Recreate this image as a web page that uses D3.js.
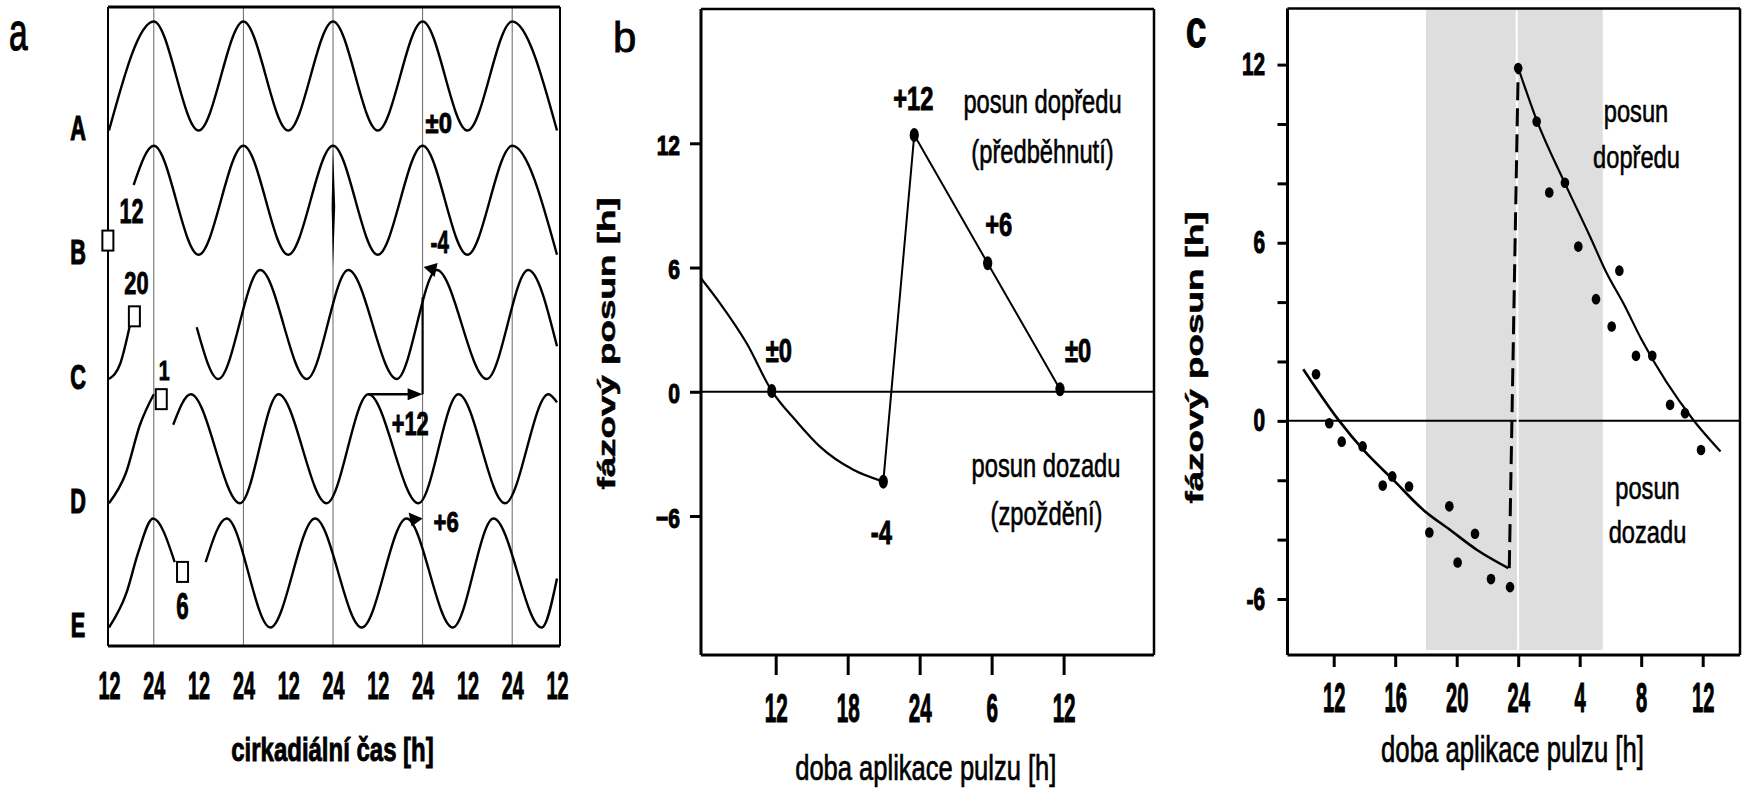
<!DOCTYPE html>
<html>
<head>
<meta charset="utf-8">
<script src="https://cdn.jsdelivr.net/npm/d3@7"></script>
<style>
  body { margin: 0; background: #fff; }
</style>
</head>
<body>
<div id="chart"></div>
<script>
const FONT = '"Liberation Sans", Arial, Helvetica, sans-serif';

// ---- panel a: traces as [hour, level] readings (level -1 trough .. 1 peak)
const rows = ['A', 'B', 'C', 'D', 'E'];
const traceA = [
  [[12, -1], [24, 1], [36, -1], [48, 1], [60, -1], [72, 1], [84, -1], [96, 1], [108, -1], [120, 1], [132, -1]]
];
const traceB = [
  [[18.6, 0.28], [24, 1], [36, -1], [48, 1], [60, -1], [72, 1], [84, -1], [96, 1], [108, -1], [120, 1], [132, -1]]
];
const traceC = [
  [[12, -1], [15, -0.72], [17.8, 0.05]],
  [[35.5, -0.05], [41.3, -1], [52.5, 1], [65, -1], [76.1, 1], [89.1, -1], [99.8, 1], [113.2, -1], [124.3, 1], [132, -0.4]]
];
const traceD = [
  [[12, -1], [16.5, -0.45], [20.3, 0.44], [24, 1]],
  [[29.2, 0.44], [33.9, 1], [47.1, -1], [57.4, 1], [70.3, -1], [81.5, 1], [94.9, -1], [105.6, 1], [118.1, -1], [129.7, 1], [132, 0.85]]
];
const traceE = [
  [[12, -1], [16.7, -0.36], [19.8, 0.37], [23.8, 1], [29.6, 0.2]],
  [[37.9, 0.2], [43.5, 1], [55.2, -1], [67.2, 1], [79.7, -1], [91.7, 1], [104.1, -1], [115, 1], [127.9, -1], [132, -0.1]]
];
const pulseRows = ['B', 'C', 'D', 'E'];
const pulseHours = [11.7, 18.8, 26, 31.7];
const pulseLevels = [-0.74, 0.15, 0.91, 0.02];
const pulseLabels = ['12', '20', '1', '6'];
const shiftRows = ['A', 'B', 'D', 'E'];
const shiftLabels = ['±0', '-4', '+12', '+6'];
const gridHoursA = [24, 48, 72, 96, 120];
const tickHoursA = [12, 24, 36, 48, 60, 72, 84, 96, 108, 120, 132];
const tickLabelsA = ['12', '24', '12', '24', '12', '24', '12', '24', '12', '24', '12'];

// ---- panel b
const bCurveHours = [5.77, 7.36, 9.58, 11.67, 13.75, 15.69, 18.47, 20.97];
const bCurveShift = [5.48, 4.27, 2.34, 0.04, -1.44, -2.65, -3.77, -4.34];
const bDotHours = [11.67, 20.97, 23.55, 29.67, 35.7];
const bDotShift = [0.04, -4.34, 12.4, 6.21, 0.12];
const bDotLabels = ['±0', '-4', '+12', '+6', '±0'];
const bTickHours = [12, 18, 24, 30, 36];
const bTickLabels = ['12', '18', '24', '6', '12'];
const bYTicks = [-6, 0, 6, 12];

// ---- panel c
const cDotHours = [10.85, 11.71, 12.52, 13.88, 15.19, 15.81, 16.9, 18.22, 19.52, 20.06, 21.19, 22.23, 23.47,
  24.0, 25.2, 26.02, 27.04, 27.91, 29.06, 30.08, 30.58, 31.66, 32.72, 33.88, 34.85, 35.89];
const cDotShift = [1.57, -0.08, -0.7, -0.86, -2.18, -1.87, -2.21, -3.76, -2.88, -4.77, -3.8, -5.33, -5.6,
  11.88, 10.08, 7.69, 8.02, 5.87, 4.1, 3.18, 5.06, 2.19, 2.19, 0.54, 0.26, -0.98];
const cLowFitHours = [10.02, 12.36, 13.93, 15.88, 17.83, 19.56, 21.3, 23.36];
const cLowFitShift = [1.74, 0, -0.98, -1.99, -3.0, -3.67, -4.34, -4.96];
const cHighFitHours = [24.01, 25.2, 27.04, 28.67, 29.76, 30.84, 32.03, 35.39, 37.16];
const cHighFitShift = [11.88, 10.13, 8.0, 6.21, 4.97, 3.96, 2.73, 0.03, -1.03];
const cJumpHours = [23.42, 24.0];
const cJumpShift = [-4.96, 11.88];
const cDarkHours = [18, 29.5];
const cTickHours = [12, 16, 20, 24, 28, 32, 36];
const cTickLabels = ['12', '16', '20', '24', '4', '8', '12'];
const cYTicks = [-6, -4, -2, 0, 2, 4, 6, 8, 10, 12];

const svg = d3.select('#chart').append('svg')
  .attr('width', 1742).attr('height', 792)
  .style('background', '#fff');

// bold condensed look: real text, squeezed with a transform and thickened with a thin stroke
const label = (g, str, x, y, o) => g.append('text')
  .attr('transform', `translate(${x},${y})${o.rotate ? ` rotate(${o.rotate})` : ''} scale(${o.sx || 1},${o.sy || 1})`)
  .attr('text-anchor', o.anchor || 'middle')
  .attr('fill', '#000')
  .attr('stroke', '#000')
  .attr('stroke-width', o.heavy != null ? o.heavy : 0.9)
  .style('font-family', FONT)
  .style('font-size', o.size + 'px')
  .style('font-weight', o.weight || 'bold')
  .text(str);

const styleAxis = (g, o) => {
  g.select('.domain').remove();
  g.selectAll('.tick line').attr('stroke', '#000').attr('stroke-width', o.tw || 0);
  g.selectAll('.tick text')
    .attr('x', null).attr('y', null).attr('dy', null)
    .attr('fill', '#000')
    .attr('stroke', '#000').attr('stroke-width', 1.1)
    .attr('text-anchor', o.anchor)
    .attr('transform', `translate(${o.dx},${o.dy}) scale(${o.sx},1)`)
    .style('font-family', FONT)
    .style('font-size', o.size + 'px')
    .style('font-weight', 'bold');
};

const frame = (g, l, r, t, b, wl, wb, wt, wr) => {
  g.append('line').attr('x1', l).attr('x2', r).attr('y1', t).attr('y2', t).attr('stroke', '#000').attr('stroke-width', wt);
  g.append('line').attr('x1', l).attr('x2', r).attr('y1', b).attr('y2', b).attr('stroke', '#000').attr('stroke-width', wb);
  g.append('line').attr('x1', l).attr('x2', l).attr('y1', t).attr('y2', b).attr('stroke', '#000').attr('stroke-width', wl);
  g.append('line').attr('x1', r).attr('x2', r).attr('y1', t).attr('y2', b).attr('stroke', '#000').attr('stroke-width', wr);
};

// ================= panel a =================
const gA = svg.append('g');
const xA = d3.scaleLinear().domain([12, 132]).range([109, 557]);
const rowY = d3.scalePoint().domain(rows).range([76, 573]);
const lvl = d3.scaleLinear().domain([-1, 1]).range([54.5, -54.5]);
const yA = (r, v) => rowY(r) + lvl(v);
const aTop = 7, aBottom = 646;

gA.selectAll('line.grid').data(gridHoursA).join('line')
  .attr('class', 'grid')
  .attr('x1', d => xA(d)).attr('x2', d => xA(d))
  .attr('y1', aTop).attr('y2', aBottom)
  .attr('stroke', '#666').attr('stroke-width', 1);

frame(gA, xA(12) - 1, xA(132) + 3, aTop, aBottom, 2, 3, 3, 2);

const traces = { A: traceA, B: traceB, C: traceC, D: traceD, E: traceE };
const lineA = d3.line().curve(d3.curveMonotoneX);
rows.forEach(r => {
  traces[r].forEach(seg => {
    gA.append('path')
      .attr('d', lineA(seg.map(p => [xA(p[0]), yA(r, p[1])])))
      .attr('fill', 'none').attr('stroke', '#000').attr('stroke-width', 2.4);
  });
  label(gA, r, 78, rowY(r) + 64, { size: 35, sx: 0.62, heavy: 1.2 });
});

// odd dark stroke at the third gridline
{
  const x = xA(72), y0 = yA('B', 1), y1 = yA('C', 1.05), ym = (y0 + y1) / 2;
  gA.append('path').attr('d', `M${x},${y0} L${x + 2.2},${ym} L${x},${y1} L${x - 1.4},${ym} Z`).attr('fill', '#000');
}

// pulse boxes
pulseRows.forEach((r, i) => {
  const cx = xA(pulseHours[i]), cy = yA(r, pulseLevels[i]);
  gA.append('rect').attr('x', cx - 5.5).attr('y', cy - 10).attr('width', 11).attr('height', 20)
    .attr('fill', '#fff').attr('stroke', '#000').attr('stroke-width', 2);
  const t = pulseLabels[i];
  if (t === '12') label(gA, t, cx + 11.5, cy - 18, { size: 36, sx: 0.6, anchor: 'start' });
  else if (t === '20') label(gA, t, cx + 2, cy - 22, { size: 32, sx: 0.68 });
  else if (t === '1') label(gA, t, cx + 3, cy - 19, { size: 28, sx: 0.7 });
  else label(gA, t, cx, cy + 47, { size: 36, sx: 0.62 });
});

// phase shift annotations
const x96 = xA(96);
shiftRows.forEach((r, i) => {
  const t = shiftLabels[i];
  if (t === '±0') label(gA, t, x96 + 3, rowY(r) + 57, { size: 29, sx: 0.82, anchor: 'start' });
  else if (t === '-4') label(gA, t, x96 + 8, rowY(r) + 53, { size: 32, sx: 0.64, anchor: 'start' });
  else if (t === '+12') label(gA, t, x96 + 6, rowY(r) - 14, { size: 33, sx: 0.66, anchor: 'end' });
  else label(gA, t, x96 + 11, rowY(r) - 41, { size: 29, sx: 0.76, anchor: 'start' });
});
{
  const yD = yA('D', 1);
  gA.append('line').attr('x1', xA(81.5)).attr('x2', x96 - 12).attr('y1', yD).attr('y2', yD)
    .attr('stroke', '#000').attr('stroke-width', 2.6);
  gA.append('path').attr('d', `M${x96},${yD} L${x96 - 15},${yD - 6} L${x96 - 15},${yD + 6} Z`).attr('fill', '#000');
  gA.append('line').attr('x1', x96).attr('x2', x96).attr('y1', yD).attr('y2', yA('C', 0.5))
    .attr('stroke', '#000').attr('stroke-width', 2.2);
  const yC = yA('C', 1);
  gA.append('path').attr('d', `M${x96 + 1},${yC - 3} L${x96 + 15},${yC - 7} L${x96 + 12},${yC + 7} Z`).attr('fill', '#000');
  const yE = yA('E', 1);
  gA.append('path').attr('d', `M${x96},${yE} L${x96 - 14},${yE - 6} L${x96 - 11},${yE + 8} Z`).attr('fill', '#000');
}

gA.append('g').attr('transform', `translate(0,${aBottom})`)
  .call(d3.axisBottom(xA).tickValues(tickHoursA).tickFormat((d, i) => tickLabelsA[i]).tickSize(0))
  .call(g => styleAxis(g, { anchor: 'middle', dx: 0, dy: 53, sx: 0.5, size: 39.5 }));

label(gA, 'cirkadiální čas [h]', 332.5, 761, { size: 33.3, sx: 0.72 });
label(gA, 'a', 9, 50, { size: 54, sx: 0.62, anchor: 'start', weight: 'normal', heavy: 1.2 });

// ================= panel b =================
const gB = svg.append('g');
const xB = d3.scaleLinear().domain([12, 36]).range([775.7, 1063.6]);
const yB = d3.scaleLinear().domain([-6, 12]).range([516, 143.3]);
const bL = 701, bR = 1154, bT = 9, bBot = 655;

frame(gB, bL, bR, bT, bBot, 3, 3, 2.5, 2.5);
gB.append('line').attr('x1', bL).attr('x2', bR).attr('y1', yB(0)).attr('y2', yB(0))
  .attr('stroke', '#000').attr('stroke-width', 2);

gB.append('g').attr('transform', `translate(0,${bBot})`)
  .call(d3.axisBottom(xB).tickValues(bTickHours).tickFormat((d, i) => bTickLabels[i]).tickSize(20))
  .call(g => styleAxis(g, { tw: 3, anchor: 'middle', dx: 0, dy: 67, sx: 0.51, size: 40.5 }));
gB.append('g').attr('transform', `translate(${bL},0)`)
  .call(d3.axisLeft(yB).tickValues(bYTicks).tickSize(11))
  .call(g => styleAxis(g, { tw: 3, anchor: 'end', dx: -21, dy: 11, sx: 0.75, size: 28 }));

const lineB = d3.line().x(d => xB(d[0])).y(d => yB(d[1]));
gB.append('path')
  .attr('d', lineB.curve(d3.curveMonotoneX)(bCurveHours.map((h, i) => [h, bCurveShift[i]])))
  .attr('fill', 'none').attr('stroke', '#000').attr('stroke-width', 2.2);
gB.append('path')
  .attr('d', d3.line().x(d => xB(d[0])).y(d => yB(d[1]))(bDotHours.slice(1).map((h, i) => [h, bDotShift[i + 1]])))
  .attr('fill', 'none').attr('stroke', '#000').attr('stroke-width', 2);
gB.selectAll('ellipse').data(bDotHours).join('ellipse')
  .attr('cx', d => xB(d)).attr('cy', (d, i) => yB(bDotShift[i]))
  .attr('rx', 4.6).attr('ry', 7).attr('fill', '#000');

const bLabelOffsets = [[7, -29], [-2, 62], [-1, -25], [11, -27], [18, -27]];
bDotLabels.forEach((t, i) => {
  label(gB, t, xB(bDotHours[i]) + bLabelOffsets[i][0], yB(bDotShift[i]) + bLabelOffsets[i][1], { size: 32.5, sx: 0.73 });
});

const noteB = { size: 32.5, sx: 0.73, weight: 'normal', heavy: 0.6 };
label(gB, 'posun dopředu', 1042.5, 113, noteB);
label(gB, '(předběhnutí)', 1042.5, 163, noteB);
label(gB, 'posun dozadu', 1046, 476.7, noteB);
label(gB, '(zpoždění)', 1046.5, 525, noteB);

label(gB, 'doba aplikace pulzu [h]', 925.8, 780, { size: 35, sx: 0.73, weight: 'normal', heavy: 0.7 });
label(gB, 'fázový posun [h]', 615, 343.5, { size: 23, sx: 1.6, rotate: -90, heavy: 0.5 });
label(gB, 'b', 613, 52, { size: 42, sx: 1, anchor: 'start', weight: 'normal', heavy: 0.8 });

// ================= panel c =================
const gC = svg.append('g');
const xC = d3.scaleLinear().domain([12, 36]).range([1333.7, 1702.7]);
const yC = d3.scaleLinear().domain([-6, 12]).range([599, 64.6]);
const cL = 1287.5, cR = 1740, cT = 8.5, cBot = 655;

gC.append('rect')
  .attr('x', xC(cDarkHours[0])).attr('width', xC(cDarkHours[1]) - xC(cDarkHours[0]))
  .attr('y', cT).attr('height', 650 - cT)
  .attr('fill', '#dedede');

frame(gC, cL, cR, cT, cBot, 3, 3, 2.5, 2.5);
gC.append('line').attr('x1', cL).attr('x2', cR).attr('y1', yC(0)).attr('y2', yC(0))
  .attr('stroke', '#000').attr('stroke-width', 2);
// white seam across the shaded band
gC.append('line').attr('x1', xC(23.9)).attr('x2', xC(24.0)).attr('y1', cT + 2).attr('y2', 650)
  .attr('stroke', '#fff').attr('stroke-width', 2);

gC.append('g').attr('transform', `translate(0,${cBot})`)
  .call(d3.axisBottom(xC).tickValues(cTickHours).tickFormat((d, i) => cTickLabels[i]).tickSize(12))
  .call(g => styleAxis(g, { tw: 3, anchor: 'middle', dx: 0, dy: 57, sx: 0.48, size: 42 }));
gC.append('g').attr('transform', `translate(${cL},0)`)
  .call(d3.axisLeft(yC).tickValues(cYTicks).tickFormat(d => d % 6 === 0 ? d : '').tickSize(10))
  .call(g => styleAxis(g, { tw: 3, anchor: 'end', dx: -22.5, dy: 10, sx: 0.65, size: 32 }));

const lineC = d3.line().x(d => xC(d[0])).y(d => yC(d[1])).curve(d3.curveMonotoneX);
gC.append('path')
  .attr('d', lineC(cLowFitHours.map((h, i) => [h, cLowFitShift[i]])))
  .attr('fill', 'none').attr('stroke', '#000').attr('stroke-width', 2.6);
gC.append('path')
  .attr('d', lineC(cHighFitHours.map((h, i) => [h, cHighFitShift[i]])))
  .attr('fill', 'none').attr('stroke', '#000').attr('stroke-width', 2.2);
gC.append('path')
  .attr('d', d3.line().x(d => xC(d[0])).y(d => yC(d[1]))(cJumpHours.map((h, i) => [h, cJumpShift[i]])))
  .attr('fill', 'none').attr('stroke', '#000').attr('stroke-width', 3).attr('stroke-dasharray', '18,8');

gC.selectAll('ellipse').data(cDotHours).join('ellipse')
  .attr('cx', d => xC(d)).attr('cy', (d, i) => yC(cDotShift[i]))
  .attr('rx', 4.3).attr('ry', 5.3).attr('fill', '#000');

const noteC = { size: 32, sx: 0.74, weight: 'normal', heavy: 0.6 };
label(gC, 'posun', 1636, 121.7, noteC);
label(gC, 'dopředu', 1636.5, 168.3, noteC);
label(gC, 'posun', 1647.5, 499.3, noteC);
label(gC, 'dozadu', 1647.5, 543.3, noteC);

label(gC, 'doba aplikace pulzu [h]', 1512.5, 762, { size: 36, sx: 0.714, weight: 'normal', heavy: 0.7 });
label(gC, 'fázový posun [h]', 1203, 357.5, { size: 23, sx: 1.6, rotate: -90, heavy: 0.5 });
label(gC, 'c', 1196, 47, { size: 51, sx: 0.73 });
</script>
</body>
</html>
